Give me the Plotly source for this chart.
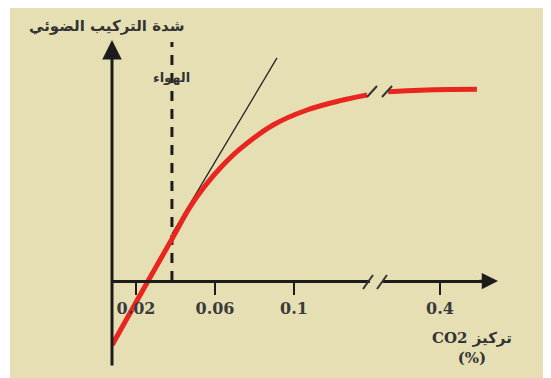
import plotly.graph_objects as go

W, H = 551, 378
OFF = 8  # the page body margin pushes the figure 8px right and down
BG = "#e6dfb4"
INK = "#1c1c1c"
RED = "#e8251f"

# CO2 concentration (%) vs photosynthesis rate (arbitrary units), before the axis break
CO2_A = [0.0079, 0.0170, 0.0261, 0.0382, 0.0473, 0.0549, 0.0636, 0.0727, 0.0894, 0.1066, 0.1233, 0.1370]
RATE_A = [-33.7, -16.8, 0.0, 22.1, 38.9, 50.0, 60.5, 69.5, 82.1, 90.0, 94.9, 97.9]
# after the axis break
CO2_B = [0.227, 0.333, 0.433, 0.523]
RATE_B = [99.6, 100.4, 100.8, 100.9]
# tangent at the air concentration
TAN_X = [0.0382, 0.0914]
TAN_Y = [24.7, 117.4]
AIR_CO2 = 0.0382
AIR_TOP = 125.8

TICKS_A = [0.02, 0.06, 0.1]
TICKS_B = [0.4]


def px(x, y):
    return (x - OFF) / W, 1 - (y - OFF) / H


fig = go.Figure()
fig.add_trace(go.Scatter(x=[AIR_CO2, AIR_CO2], y=[0, AIR_TOP], mode="lines",
                         line=dict(color=INK, width=3, dash="10px,8px"), xaxis="x", yaxis="y"))
fig.add_trace(go.Scatter(x=TAN_X, y=TAN_Y, mode="lines", line=dict(color="#222", width=1.3),
                         xaxis="x", yaxis="y"))
fig.add_trace(go.Scatter(x=CO2_A, y=RATE_A, mode="lines", line=dict(color=RED, width=5, shape="spline"),
                         xaxis="x", yaxis="y"))
fig.add_trace(go.Scatter(x=CO2_B, y=RATE_B, mode="lines", line=dict(color=RED, width=5, shape="spline"),
                         xaxis="x2", yaxis="y"))

# beige panel, break marks
bx0, by1 = px(10, 2)
shapes = [dict(type="rect", xref="paper", yref="paper", x0=bx0, x1=1, y0=0, y1=1,
               fillcolor=BG, line=dict(width=0), layer="below")]
for (x0, y0, x1, y1) in [(363, 289, 373, 275), (377, 289, 387, 275), (367, 97, 377, 86), (382, 97, 392, 86)]:
    a, b = px(x0, y0)
    c, d = px(x1, y1)
    shapes.append(dict(type="line", xref="paper", yref="paper", x0=a, y0=b, x1=c, y1=d,
                       line=dict(color="#333", width=2)))

axis_y = px(0, 281)[1]
tickfont = dict(family="DejaVu Serif", size=16, color="#3a3a3a")
common = dict(anchor="free", position=axis_y, showline=True, linewidth=2.5, linecolor=INK,
              ticks="outside", ticklen=12, tickwidth=2, tickcolor=INK, tickfont=tickfont,
              showgrid=False, zeroline=False)
fig.update_layout(
    width=W, height=H, margin=dict(l=0, r=0, t=0, b=0),
    paper_bgcolor="white", plot_bgcolor="rgba(0,0,0,0)", showlegend=False, shapes=shapes,
    xaxis=dict(domain=[px(112, 0)[0], px(370, 0)[0]], range=[0.00785, 0.00785 + 258 / 1975],
               tickvals=TICKS_A, ticktext=["<b>0.02</b>", "<b>0.06</b>", "<b>0.1</b>"], **common),
    xaxis2=dict(domain=[px(383, 0)[0], px(492, 0)[0]], range=[0.4 - 57 / 300, 0.4 + 52 / 300],
                tickvals=TICKS_B, ticktext=["<b>0.4</b>"], **common),
    yaxis=dict(domain=[0, 1], range=[(281 - (H + OFF)) / 1.9, (281 - OFF) / 1.9], visible=False),
)

# axis arrows
tx, ty = px(112, 40)
fig.add_annotation(xref="paper", yref="paper", x=tx, y=ty, ax=0, ay=367 - 40, text="",
                   showarrow=True, arrowhead=2, arrowsize=1.3, arrowwidth=3, arrowcolor=INK)
tx, ty = px(498, 281)
fig.add_annotation(xref="paper", yref="paper", x=tx, y=ty, ax=-20, ay=0, text="",
                   showarrow=True, arrowhead=2, arrowsize=1.3, arrowwidth=2.5, arrowcolor=INK)

# labels
label = dict(xref="paper", yref="paper", showarrow=False, xanchor="center", yanchor="middle")
lx, ly = px(106, 26)
fig.add_annotation(x=lx, y=ly, text="<b>شدة التركيب الضوئي</b>",
                   font=dict(family="DejaVu Sans", size=15, color="#333"), **label)
lx, ly = px(171, 78)
fig.add_annotation(x=lx, y=ly, text="<b>الهواء</b>",
                   font=dict(family="DejaVu Sans", size=13, color="#333"), **label)
lx, ly = px(472, 348)
fig.add_annotation(x=lx, y=ly, text="<b>CO2 تركيز</b><br><b>(%)</b>",
                   font=dict(family="DejaVu Serif, DejaVu Sans", size=15, color="#333"), **label)

fig.write_html("out.html")
